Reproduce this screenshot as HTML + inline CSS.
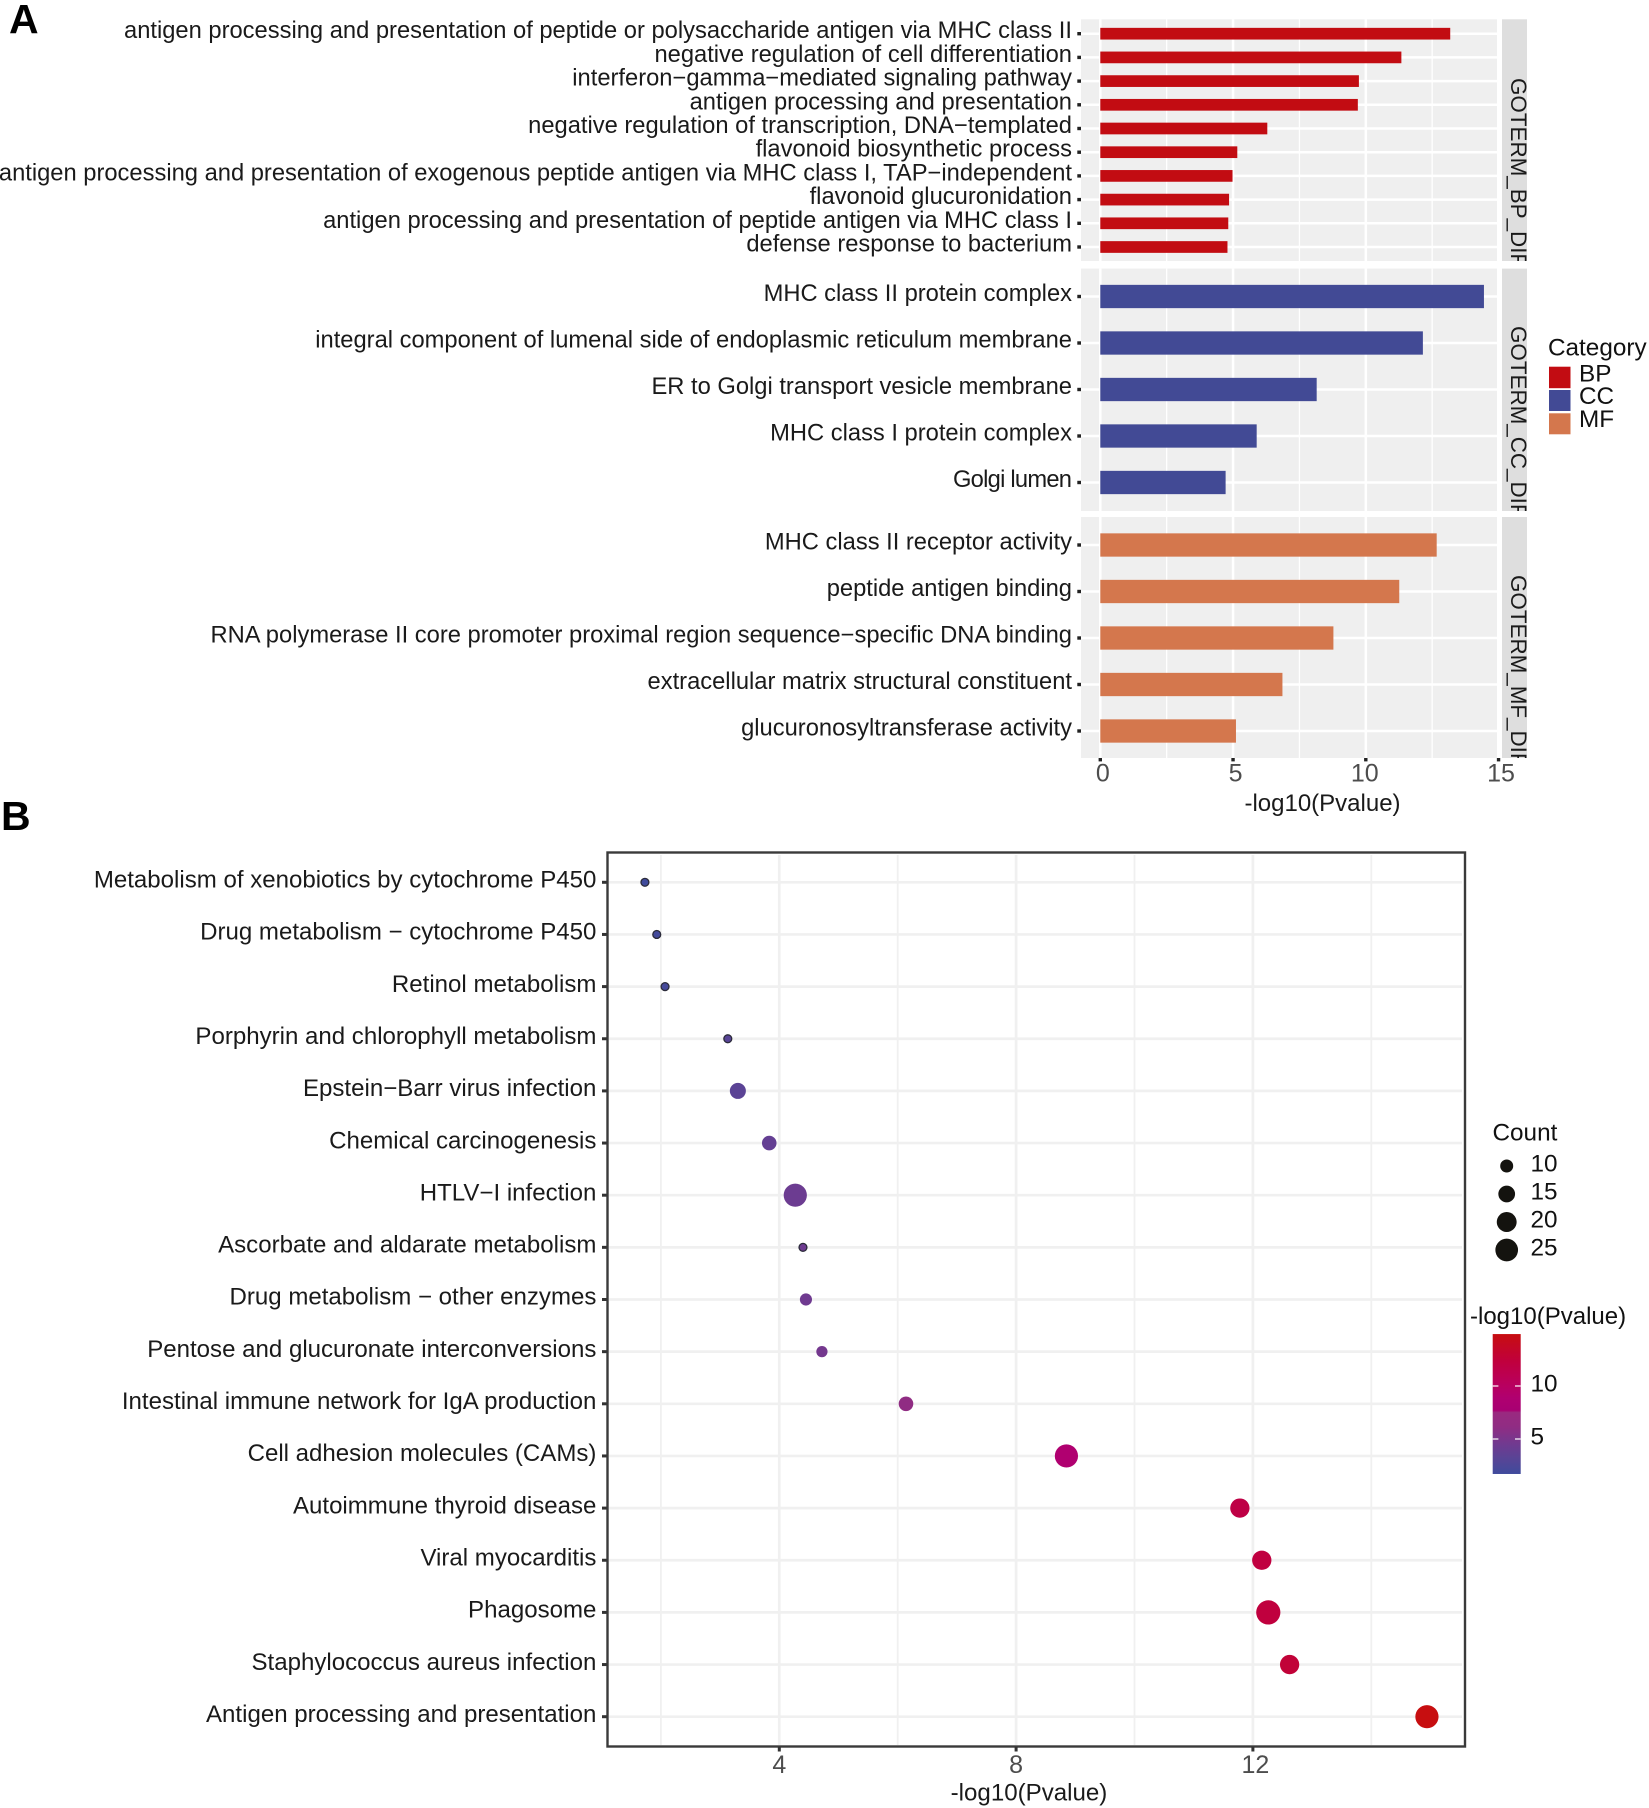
<!DOCTYPE html>
<html lang="en">
<head>
<meta charset="utf-8">
<title>GO enrichment and KEGG pathway charts</title>
<style>
html,body{margin:0;padding:0;background:#fff;}
svg{display:block;}
text{font-family:"Liberation Sans",Arial,sans-serif;}
</style>
</head>
<body>
<svg id="figure" xmlns="http://www.w3.org/2000/svg" width="1649" height="1808" viewBox="0 0 1649 1808">
  <defs>
    <clipPath id="clip-bp"><rect x="1502" y="19.3" width="25" height="241.7"/></clipPath>
    <clipPath id="clip-cc"><rect x="1502" y="268.6" width="25" height="242.4"/></clipPath>
    <clipPath id="clip-mf"><rect x="1502" y="517" width="25" height="241"/></clipPath>
    <linearGradient id="colorbar-gradient" x1="0" y1="1" x2="0" y2="0"></linearGradient>
  </defs>
  <rect width="1649" height="1808" fill="#fff"/>
  <text x="9" y="33" font-size="41" font-weight="700" fill="#000">A</text>
  <text x="1" y="830" font-size="41" font-weight="700" fill="#000">B</text>

  <g id="panel-a">
    <rect x="1081" y="19.3" width="416" height="241.7" fill="#efefef"/>
    <rect x="1081" y="268.6" width="416" height="242.4" fill="#efefef"/>
    <rect x="1081" y="517" width="416" height="241" fill="#efefef"/>
    <g id="a-grid"></g>
    <g id="a-bars"></g>
    <g id="a-labels" font-size="23.72" fill="#1a1a1a" text-anchor="end"></g>
    <g id="a-ticks"></g>
    <rect x="1502" y="19.3" width="25" height="241.7" fill="#dedede"/>
    <rect x="1502" y="268.6" width="25" height="242.4" fill="#dedede"/>
    <rect x="1502" y="517" width="25" height="241" fill="#dedede"/>
    <g clip-path="url(#clip-bp)"><text transform="translate(1511,78) rotate(90)" font-size="22.4" fill="#1a1a1a">GOTERM_BP_DIF</text></g>
    <g clip-path="url(#clip-cc)"><text transform="translate(1511,326) rotate(90)" font-size="22.4" fill="#1a1a1a">GOTERM_CC_DIF</text></g>
    <g clip-path="url(#clip-mf)"><text transform="translate(1511,575) rotate(90)" font-size="22.4" fill="#1a1a1a">GOTERM_MF_DIF</text></g>
    <text x="1322.5" y="811" font-size="24" fill="#1a1a1a" text-anchor="middle">-log10(Pvalue)</text>
    <g>
      <text x="1548" y="355.5" font-size="24.3" fill="#111">Category</text>
      <rect x="1549" y="366.7" width="21.5" height="21.5" fill="#c20c12"/>
      <rect x="1549" y="390" width="21.5" height="21" fill="#424a95"/>
      <rect x="1549" y="413.3" width="21.5" height="21" fill="#d4774d"/>
      <text x="1579" y="381.3" font-size="24.3" fill="#111">BP</text>
      <text x="1579" y="404" font-size="24.3" fill="#111">CC</text>
      <text x="1579" y="427" font-size="24.3" fill="#111">MF</text>
    </g>
  </g>

  <g id="panel-b">
    <g id="b-grid"></g>
    <g id="b-points"></g>
    <rect x="607.5" y="852.5" width="857.5" height="894" fill="none" stroke="#3a3a3a" stroke-width="2.4"/>
    <g id="b-labels" font-size="24.05" fill="#1a1a1a" text-anchor="end"></g>
    <g id="b-ticks"></g>
    <text x="1029" y="1800.5" font-size="24.1" fill="#1a1a1a" text-anchor="middle">-log10(Pvalue)</text>
    <g id="size-legend">
      <text x="1492.5" y="1140.7" font-size="24.3" fill="#111">Count</text>
    </g>
    <g id="color-legend">
      <text x="1470" y="1324" font-size="24" fill="#111">-log10(Pvalue)</text>
    </g>
  </g>
</svg>

<script>
const bpTerms = [
  "antigen processing and presentation of peptide or polysaccharide antigen via MHC class II",
  "negative regulation of cell differentiation",
  "interferon−gamma−mediated signaling pathway",
  "antigen processing and presentation",
  "negative regulation of transcription, DNA−templated",
  "flavonoid biosynthetic process",
  "antigen processing and presentation of exogenous peptide antigen via MHC class I, TAP−independent",
  "flavonoid glucuronidation",
  "antigen processing and presentation of peptide antigen via MHC class I",
  "defense response to bacterium"
];
const bpValues = [13.18, 11.34, 9.74, 9.70, 6.29, 5.16, 4.98, 4.85, 4.82, 4.79];
const ccTerms = [
  "MHC class II protein complex",
  "integral component of lumenal side of endoplasmic reticulum membrane",
  "ER to Golgi transport vesicle membrane",
  "MHC class I protein complex",
  "Golgi lumen"
];
const ccValues = [14.45, 12.15, 8.15, 5.89, 4.72];
const mfTerms = [
  "MHC class II receptor activity",
  "peptide antigen binding",
  "RNA polymerase II core promoter proximal region sequence−specific DNA binding",
  "extracellular matrix structural constituent",
  "glucuronosyltransferase activity"
];
const mfValues = [12.67, 11.26, 8.78, 6.86, 5.11];
const barMajorTicks = [0, 5, 10, 15];
const barMinorTicks = [2.5, 7.5, 12.5];

const pathways = [
  "Metabolism of xenobiotics by cytochrome P450",
  "Drug metabolism − cytochrome P450",
  "Retinol metabolism",
  "Porphyrin and chlorophyll metabolism",
  "Epstein−Barr virus infection",
  "Chemical carcinogenesis",
  "HTLV−I infection",
  "Ascorbate and aldarate metabolism",
  "Drug metabolism − other enzymes",
  "Pentose and glucuronate interconversions",
  "Intestinal immune network for IgA production",
  "Cell adhesion molecules (CAMs)",
  "Autoimmune thyroid disease",
  "Viral myocarditis",
  "Phagosome",
  "Staphylococcus aureus infection",
  "Antigen processing and presentation"
];
const pathwayPvalues = [1.73, 1.93, 2.07, 3.13, 3.30, 3.83, 4.27, 4.40, 4.45, 4.72, 6.14, 8.85, 11.78, 12.15, 12.26, 12.62, 14.94];
const pathwayCounts = [5, 5, 5, 5, 14, 12, 26, 5, 9, 8, 12, 26, 19, 19, 28, 19, 26];
const bubbleMajorTicks = [4, 8, 12];
const bubbleMinorTicks = [2, 6, 10, 14];
const sizeLegendCounts = [10, 15, 20, 25];
const colorLegendTicks = [5, 10];
const colorStopValues = [1.7, 3.3, 4.5, 6.14, 7.5, 7.7, 8.85, 10, 12.25, 14.9];
const colorStopHex = ["#3f4b9c", "#5b4395", "#703a90", "#902c83", "#9a2a80", "#a80072", "#b00070", "#b80060", "#c0003e", "#c70e10"];

const NS = "http://www.w3.org/2000/svg";
function mk(tag, attrs, parent) {
  const node = document.createElementNS(NS, tag);
  for (const key in attrs) node.setAttribute(key, attrs[key]);
  parent.appendChild(node);
  return node;
}
function slug(s) {
  return s.toLowerCase().replace(/[^a-z0-9]+/g, '-').replace(/^-|-$/g, '');
}
function hexToRgb(h) {
  return [parseInt(h.slice(1, 3), 16), parseInt(h.slice(3, 5), 16), parseInt(h.slice(5, 7), 16)];
}
function colorScale(v) {
  const n = colorStopValues.length;
  if (v <= colorStopValues[0]) return colorStopHex[0];
  if (v >= colorStopValues[n - 1]) return colorStopHex[n - 1];
  for (let i = 1; i < n; i++) {
    if (v <= colorStopValues[i]) {
      const t = (v - colorStopValues[i - 1]) / (colorStopValues[i] - colorStopValues[i - 1]);
      const a = hexToRgb(colorStopHex[i - 1]);
      const b = hexToRgb(colorStopHex[i]);
      return 'rgb(' + a.map((c, k) => Math.round(c + (b[k] - c) * t)).join(',') + ')';
    }
  }
}

/* Panel A: bars */
const xA = v => 1100.3 + v * 26.55;
const panelsA = [
  { key: "bp", top: 19.3, bottom: 261, first: 33.7, step: 23.7, barH: 11.7, color: "#c20c12", terms: bpTerms, values: bpValues },
  { key: "cc", top: 268.6, bottom: 511, first: 296.5, step: 46.5, barH: 23.3, color: "#424a95", terms: ccTerms, values: ccValues },
  { key: "mf", top: 517, bottom: 758, first: 545, step: 46.5, barH: 23.3, color: "#d4774d", terms: mfTerms, values: mfValues }
];
const aGrid = document.getElementById('a-grid');
const aBars = document.getElementById('a-bars');
const aLabels = document.getElementById('a-labels');
const aTicks = document.getElementById('a-ticks');
panelsA.forEach(p => {
  barMinorTicks.forEach(t => {
    const line = mk('line', { x1: xA(t), x2: xA(t), y1: p.top, y2: p.bottom, stroke: '#fff', 'stroke-width': 1.3 }, aGrid);
    
    
  });
  barMajorTicks.forEach(t => {
    const line = mk('line', { x1: xA(t), x2: xA(t), y1: p.top, y2: p.bottom, stroke: '#fff', 'stroke-width': 2.5 }, aGrid);
    
    
  });
  p.terms.forEach((term, i) => {
    const y = p.first + i * p.step;
    const grid = mk('line', { x1: 1081, x2: 1497, y1: y, y2: y, stroke: '#fff', 'stroke-width': 2.5 }, aGrid);
    
    
    const bar = mk('rect', { x: xA(0), y: y - p.barH / 2, width: xA(p.values[i]) - xA(0), height: p.barH, fill: p.color }, aBars);
    
    
    const label = mk('text', { x: 1072, y: y + 4.5 }, aLabels);
    label.textContent = term;
    if (term === 'Golgi lumen') label.setAttribute('textLength', '119');
    
    
    const tick = mk('rect', { x: 1077.3, y: y - 1.7, width: 3.7, height: 3.4, fill: '#222' }, aTicks);
    
    
  });
});
barMajorTicks.forEach(t => {
  const tick = mk('rect', { x: xA(t) - 1.7, y: 758, width: 3.4, height: 3.4, fill: '#222' }, aTicks);
  
  
  const label = mk('text', { x: xA(t) + (t === 10 ? -1 : 2.5), y: 781.5, 'font-size': 25, fill: '#4d4d4d', 'text-anchor': 'middle' }, aTicks);
  label.textContent = String(t);
  
  
});

/* Panel B: bubbles */
const xB = v => 779.3 + (v - 4) * 59.2;
const yB = i => 882.3 + i * 52.15;
const dia = c => 5.27 * Math.sqrt(c) - 3.67;
const bGrid = document.getElementById('b-grid');
const bPoints = document.getElementById('b-points');
const bLabels = document.getElementById('b-labels');
const bTicks = document.getElementById('b-ticks');
pathways.forEach((name, i) => {
  const line = mk('line', { x1: 609, x2: 1462, y1: yB(i), y2: yB(i), stroke: '#f0f0f0', 'stroke-width': 2.7 }, bGrid);
  
  
});
bubbleMinorTicks.forEach(t => {
  const line = mk('line', { x1: xB(t), x2: xB(t), y1: 855, y2: 1745, stroke: '#f0f0f0', 'stroke-width': 1.8 }, bGrid);
  
  
});
bubbleMajorTicks.forEach(t => {
  const line = mk('line', { x1: xB(t), x2: xB(t), y1: 855, y2: 1745, stroke: '#f0f0f0', 'stroke-width': 2.7 }, bGrid);
  
  
  const tick = mk('rect', { x: xB(t) - 1.5, y: 1747, width: 3, height: 4.5, fill: '#333' }, bTicks);
  
  
  const label = mk('text', { x: xB(t) + (t === 12 ? 2.5 : 0), y: 1773, 'font-size': 25, fill: '#4d4d4d', 'text-anchor': 'middle' }, bTicks);
  label.textContent = String(t);
  
  
});
pathways.forEach((name, i) => {
  const small = pathwayCounts[i] <= 6;
  const d = dia(pathwayCounts[i]);
  const point = mk('circle', {
    cx: xB(pathwayPvalues[i]), cy: yB(i),
    r: small ? d / 2 - 0.1 : d / 2,
    fill: colorScale(pathwayPvalues[i]),
    stroke: small ? '#2b2b3a' : 'none',
    'stroke-width': small ? 1.3 : 0
  }, bPoints);
  
  
  const label = mk('text', { x: 596.4, y: yB(i) + 5.2 }, bLabels);
  label.textContent = name;
  
  
  const tick = mk('rect', { x: 602, y: yB(i) - 1.5, width: 4.5, height: 3, fill: '#333' }, bTicks);
  
  
});

/* Count legend */
const sizeLegend = document.getElementById('size-legend');
const yCountLegend = i => 1166 + i * 28;
sizeLegendCounts.forEach((c, i) => {
  const dot = mk('circle', { cx: 1506.7, cy: yCountLegend(i), r: dia(c) / 2, fill: '#14130f' }, sizeLegend);
  
  
  const label = mk('text', { x: 1530.5, y: yCountLegend(i) + 5.3, 'font-size': 24.3, fill: '#111' }, sizeLegend);
  label.textContent = String(c);
  
  
});

/* Colour legend */
const colorLegend = document.getElementById('color-legend');
const yCB = v => 1386 + (10 - v) * 10.6;
const gradient = document.getElementById('colorbar-gradient');
const cbLow = colorStopValues[0];
const cbHigh = colorStopValues[colorStopValues.length - 1];
colorStopValues.forEach((v, i) => {
  mk('stop', { offset: (v - cbLow) / (cbHigh - cbLow), 'stop-color': colorStopHex[i] }, gradient);
});
const colorBar = mk('rect', { x: 1492.7, y: yCB(cbHigh), width: 28, height: yCB(cbLow) - yCB(cbHigh), fill: 'url(#colorbar-gradient)' }, colorLegend);


colorLegendTicks.forEach(t => {
  const left = mk('line', { x1: 1492.7, x2: 1498.4, y1: yCB(t), y2: yCB(t), stroke: '#fff', 'stroke-width': 1.2 }, colorLegend);
  
  
  const right = mk('line', { x1: 1515, x2: 1520.7, y1: yCB(t), y2: yCB(t), stroke: '#fff', 'stroke-width': 1.2 }, colorLegend);
  
  
  const label = mk('text', { x: 1530.5, y: yCB(t) + 5.5, 'font-size': 24.3, fill: '#111' }, colorLegend);
  label.textContent = String(t);
  
  
});
</script>
</body>
</html>
